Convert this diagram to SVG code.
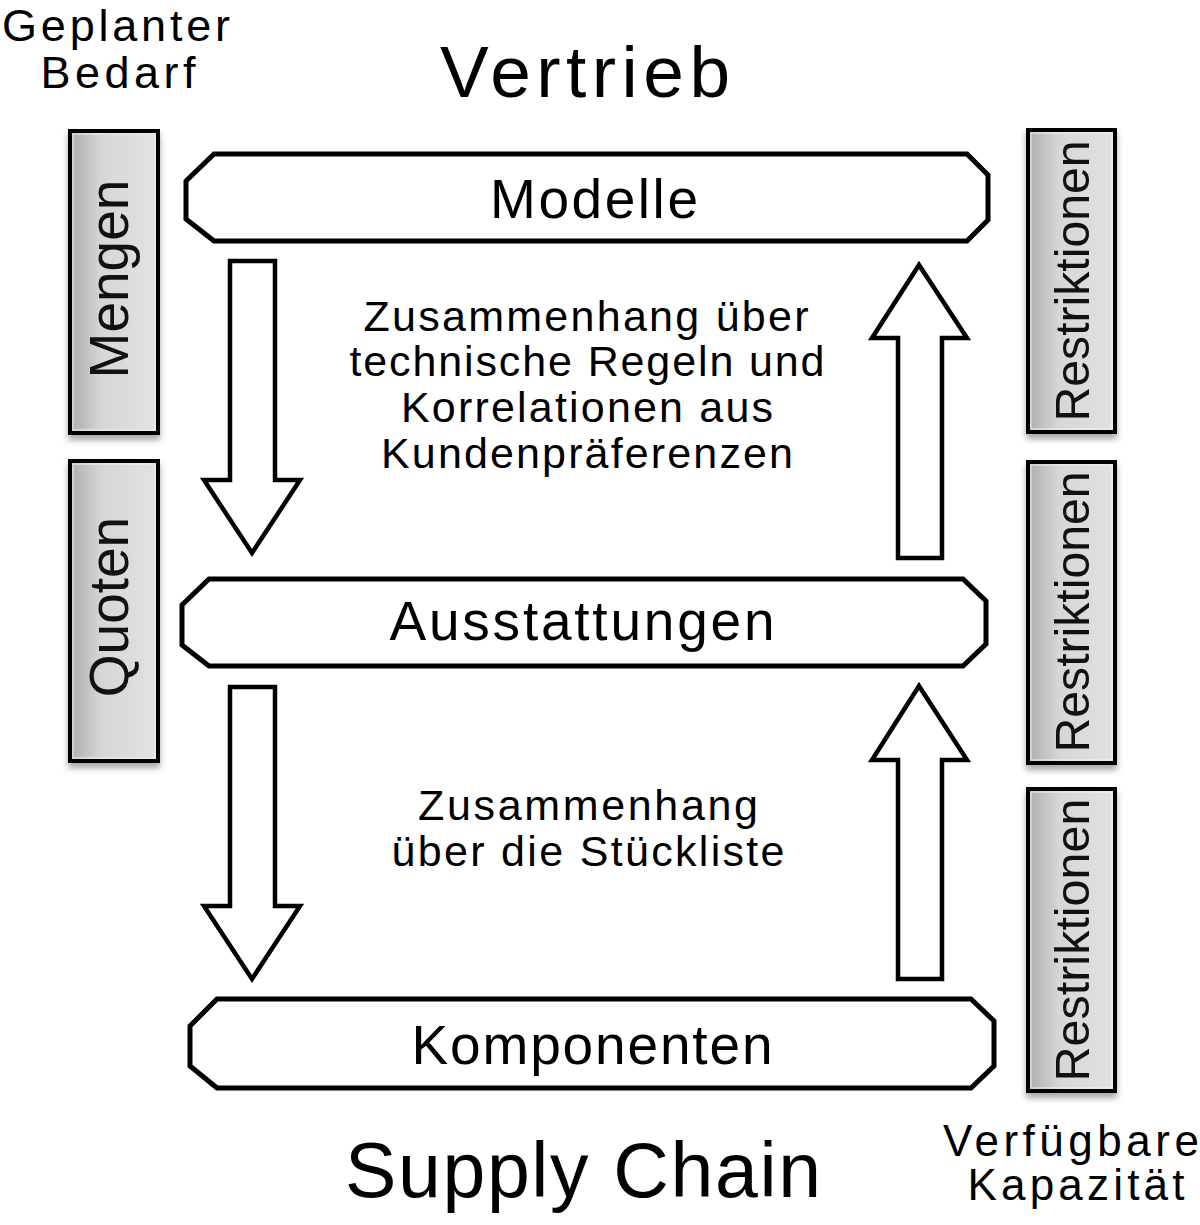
<svg xmlns="http://www.w3.org/2000/svg" width="1200" height="1225" viewBox="0 0 1200 1225">
<defs>
<linearGradient id="gbox" x1="0" y1="0" x2="1" y2="0">
<stop offset="0" stop-color="#adadad"/>
<stop offset="0.35" stop-color="#d6d6d6"/>
<stop offset="1" stop-color="#e2e2e2"/>
</linearGradient>
<filter id="sh" x="-20%" y="-10%" width="140%" height="120%">
<feDropShadow dx="0" dy="5" stdDeviation="3" flood-color="#000" flood-opacity="0.35"/>
</filter>
</defs>
<style>
.node{fill:#fff;stroke:#000;stroke-width:5;stroke-linejoin:miter}
.arr{fill:#fff;stroke:#000;stroke-width:4.5;stroke-linejoin:miter}
.side{fill:url(#gbox);stroke:#000;stroke-width:4;filter:url(#sh)}
.inner{fill:none;stroke:#f2f2f2;stroke-width:1}
.g{font-family:"Liberation Sans",Arial,sans-serif;fill:#000}
.v{font-family:"Liberation Sans",Arial,sans-serif;fill:#111;text-anchor:middle}
.c{text-anchor:middle}
</style>
<rect width="1200" height="1225" fill="#fff"/>

<g id="title-vertrieb"><text class="g c" x="585" y="97" font-size="73" textLength="290" lengthAdjust="spacing">Vertrieb</text></g>
<g id="title-supply"><text class="g c" x="583" y="1197" font-size="77" textLength="476" lengthAdjust="spacing">Supply Chain</text></g>

<g id="label-geplanter">
<text class="g c" x="116" y="41" font-size="45" textLength="228" lengthAdjust="spacing">Geplanter</text>
<text class="g c" x="118" y="88" font-size="45" textLength="155" lengthAdjust="spacing">Bedarf</text>
</g>
<g id="label-verfuegbar">
<text class="g c" x="1071" y="1156" font-size="44" textLength="256" lengthAdjust="spacing">Verfügbare</text>
<text class="g c" x="1076" y="1200" font-size="44" textLength="217" lengthAdjust="spacing">Kapazität</text>
</g>

<g id="box-mengen">
<rect class="side" x="70" y="131" width="88" height="302"/>
<rect class="inner" x="73" y="134" width="82" height="296"/>
<text class="v" transform="translate(128,279) rotate(-90)" font-size="55">Mengen</text>
</g>
<g id="box-quoten">
<rect class="side" x="70" y="461" width="88" height="300"/>
<rect class="inner" x="73" y="464" width="82" height="294"/>
<text class="v" transform="translate(128,607) rotate(-90)" font-size="55">Quoten</text>
</g>

<g id="box-restr-1">
<rect class="side" x="1028" y="130" width="87" height="302"/>
<rect class="inner" x="1031" y="133" width="81" height="296"/>
<text class="v" transform="translate(1089,281) rotate(-90)" font-size="48" textLength="281" lengthAdjust="spacingAndGlyphs">Restriktionen</text>
</g>
<g id="box-restr-2">
<rect class="side" x="1028" y="462" width="87" height="301"/>
<rect class="inner" x="1031" y="465" width="81" height="295"/>
<text class="v" transform="translate(1089,612) rotate(-90)" font-size="48" textLength="281" lengthAdjust="spacingAndGlyphs">Restriktionen</text>
</g>
<g id="box-restr-3">
<rect class="side" x="1028" y="789" width="87" height="302"/>
<rect class="inner" x="1031" y="792" width="81" height="296"/>
<text class="v" transform="translate(1089,940) rotate(-90)" font-size="48" textLength="283" lengthAdjust="spacingAndGlyphs">Restriktionen</text>
</g>

<g id="node-modelle">
<polygon class="node" points="214,154 967,154 988,175 988,220 967,241 214,241 186,219 186,181"/>
<text class="g c" x="594" y="218" font-size="55" textLength="208" lengthAdjust="spacing">Modelle</text>
</g>
<g id="node-ausstattungen">
<polygon class="node" points="209,579 963,579 986,601 986,644 963,666 209,666 182,645 182,605"/>
<text class="g c" x="582" y="640" font-size="55" textLength="385" lengthAdjust="spacing">Ausstattungen</text>
</g>
<g id="node-komponenten">
<polygon class="node" points="217,999 971,999 994,1021 994,1066 971,1088 217,1088 190,1066 190,1026"/>
<text class="g c" x="592" y="1064" font-size="55" textLength="361" lengthAdjust="spacing">Komponenten</text>
</g>

<g id="connectors">
<polygon class="arr" points="230,261 275,261 275,480 300,480 252,553 204,480 230,480"/>
<polygon class="arr" points="230,687 275,687 275,906 300,906 252,979 204,906 230,906"/>
<polygon class="arr" points="898,558 942,558 942,338 967,338 919,265 872,338 898,338"/>
<polygon class="arr" points="898,979 942,979 942,760 967,760 919,686 872,760 898,760"/>
</g>

<g id="text-upper">
<text class="g c" x="586" y="331" font-size="43" textLength="445" lengthAdjust="spacing">Zusammenhang über</text>
<text class="g c" x="587" y="376" font-size="43" textLength="475" lengthAdjust="spacing">technische Regeln und</text>
<text class="g c" x="587" y="422" font-size="43" textLength="372" lengthAdjust="spacing">Korrelationen aus</text>
<text class="g c" x="587" y="468" font-size="43" textLength="412" lengthAdjust="spacing">Kundenpräferenzen</text>
</g>
<g id="text-lower">
<text class="g c" x="588" y="820" font-size="43" textLength="340" lengthAdjust="spacing">Zusammenhang</text>
<text class="g c" x="588" y="866" font-size="43" textLength="393" lengthAdjust="spacing">über die Stückliste</text>
</g>
</svg>
